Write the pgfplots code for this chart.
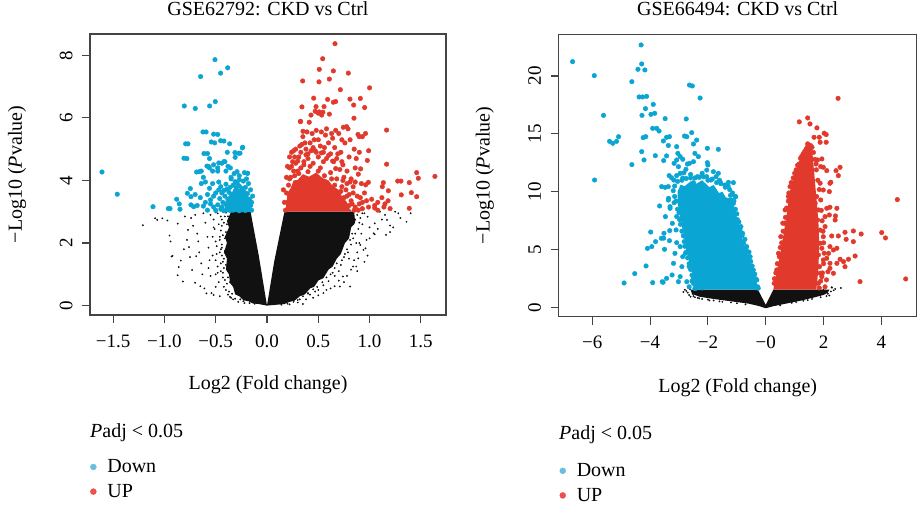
\documentclass[border=0pt]{standalone}
\usepackage{pgfplots}
\pgfplotsset{compat=1.18}
\usepackage{fontspec}
\setmainfont{Liberation Serif}

\definecolor{cblue}{HTML}{0AA5D3}
\definecolor{cred}{HTML}{E13A2D}
\definecolor{cblack}{HTML}{111111}
\definecolor{lblue}{HTML}{6CBCE4}
\definecolor{lred}{HTML}{EE5050}
\definecolor{frame}{HTML}{444444}

\newcommand\ticksize{\fontsize{19}{22}\selectfont}
\newcommand\labsize{\fontsize{20}{24}\selectfont}

\pgfplotsset{
  volc/.style={
    scale only axis,
    axis line style={frame, line width=1.1pt},
    every tick/.style={frame, line width=1.1pt},
    tick align=outside, major tick length=8pt,
    xtick pos=bottom, ytick pos=left,
    tick label style={font=\ticksize},
    xticklabel style={yshift=-8pt},
    yticklabel style={xshift=-6pt, rotate=90, anchor=south},
    label style={font=\labsize},
    title style={font=\labsize, anchor=center},
    legend cell align=left,
    legend style={draw=none, fill=none, font=\labsize, row sep=6pt,
      /tikz/every odd column/.append style={column sep=9pt}},
  },
  blk/.style={only marks, mark=*, mark size=0.7pt, color=cblack, forget plot},
  blu/.style={only marks, mark=*, mark size=2.3pt, color=cblue, forget plot},
  rd/.style={only marks, mark=*, mark size=2.3pt, color=cred, forget plot},
}

\begin{document}
\begin{tikzpicture}
\useasboundingbox (0pt,0pt) rectangle (920pt,509pt);

% ---------------- GSE62792 ----------------
\begin{axis}[volc,
  at={(90pt,194pt)}, anchor=south west,
  width=356pt, height=281pt,
  xmin=-1.725, xmax=1.745, ymin=-0.30, ymax=8.68,
  xtick={-1.5,-1,-0.5,0,0.5,1,1.5},
  xticklabels={−1.5,−1.0,−0.5,0.0,0.5,1.0,1.5},
  ytick={0,2,4,6,8}, yticklabels={0,2,4,6,8},
  title={GSE62792: CKD vs Ctrl},
  title style={at={(axis description cs:0.5,1.069)}},
  xlabel={Log2 (Fold change)},
  xlabel style={at={(axis description cs:0.5,-0.249)}, anchor=center},
  ylabel={−Log10 (\textit{P}value)},
  ylabel style={at={(axis description cs:-0.205,0.5)}, anchor=center},
  legend style={at={(axis description cs:-0.008,-0.50)}, anchor=north west},
]
% dense non-significant genes
\addplot[fill=cblack, draw=none, forget plot] coordinates {
(0,0) (-0.08,0.05) (-0.14,0.07) (-0.18,0.14) (-0.23,0.17) (-0.27,0.3)
(-0.31,0.36) (-0.33,0.6) (-0.36,0.72) (-0.37,1.0) (-0.4,1.15) (-0.39,1.5)
(-0.42,1.7) (-0.39,2.0) (-0.41,2.2) (-0.37,2.5) (-0.39,2.7) (-0.35,3.0)
(-0.16,3.0) (-0.12,2.3) (-0.08,1.6) (-0.05,1.0) (-0.02,0.4) (0,0)};
\addplot[fill=cblack, draw=none, forget plot] coordinates {
(0,0) (0.1,0.03) (0.17,0.05) (0.22,0.12) (0.27,0.16) (0.32,0.3) (0.37,0.36)
(0.42,0.55) (0.46,0.6) (0.5,0.8) (0.55,0.88) (0.6,1.15) (0.64,1.25)
(0.68,1.5) (0.72,1.65) (0.76,2.0) (0.8,2.15) (0.82,2.5) (0.86,2.65)
(0.85,3.0) (0.17,3.0) (0.12,2.2) (0.07,1.4) (0.03,0.6) (0.01,0.2) (0,0)};
\addplot[blk] coordinates {
(-1.21,2.57) (-1.07,2.74) (-1.02,2.79) (-0.97,2.72) (-0.95,2.24) (-0.94,2.05)
(-0.92,1.59) (-0.87,0.97) (-0.86,1.23) (-0.84,1.44) (-0.87,2.62) (-0.82,0.77)
(-0.77,2.42) (-0.76,1.87) (-0.75,1.55) (-0.73,1.14) (-0.70,0.73) (-0.80,2.85)
(-0.74,2.80) (-0.70,2.90) (-0.68,2.30) (-0.67,2.05) (-0.66,1.70) (-0.64,1.35)
(-0.63,1.00) (-0.61,0.55) (-0.60,2.65) (-0.58,2.20) (-0.57,1.85) (-0.56,1.45)
(-0.55,0.95) (-0.54,0.40) (-0.52,2.75) (-0.51,2.45) (-0.50,2.05) (-0.49,1.65)
(-0.48,1.25) (-0.47,0.75) (-0.46,0.30) (-0.45,2.85) (-0.44,2.55) (-0.44,1.95)
(-0.43,1.40) (-0.43,0.90) (-0.59,0.39) (-0.52,0.34) (-0.93,1.57) (-1.09,2.79)
(-0.62,2.95) (-0.55,2.90) (-0.48,2.95) (-0.47,2.60) (-0.46,2.20) (-0.45,1.80)
(-0.45,1.10) (-0.40,0.50) (-0.38,0.35) (-0.35,0.25) (-0.33,0.20) (-0.28,0.12)
(-0.65,0.62) (-0.69,1.58) (-0.72,2.55) (-0.78,2.10) (-0.81,1.80) (-0.57,1.20)
(-0.53,1.60) (-0.50,1.00) (-0.50,0.60)
(-0.12,0.06) (-0.17,0.08) (-0.23,0.14) (-0.26,0.20) (-0.31,0.22) (-0.34,0.38)
(-0.37,0.45) (-0.39,0.70) (-0.41,0.82) (-0.43,1.05) (-0.42,1.20) (-0.45,1.35)
(-0.44,1.60) (-0.46,1.70) (-0.44,1.85) (-0.46,2.10) (-0.43,2.25) (-0.45,2.40)
(-0.42,2.65) (-0.44,2.75) (-0.41,2.85) (-0.40,2.97) (-0.50,2.98) (-0.52,2.50)
(-0.53,2.20) (-0.49,1.90) (-0.50,1.45) (-0.48,1.05) (-0.42,0.60) (-0.36,0.28)
(-0.22,0.08) (-0.38,0.90) (-0.40,1.30) (-0.41,1.75) (-0.41,2.15) (-0.39,2.60)
(-0.38,2.85) (-0.36,0.75) (-0.30,0.40) (-0.40,2.35) (-0.42,1.50) (-0.38,1.10)
(1.36,2.68) (1.20,2.56) (1.17,2.74) (1.25,3.00) (1.28,2.95) (1.10,3.00)
(1.05,2.63) (1.04,2.31) (0.97,2.10) (0.94,1.78) (0.91,1.94) (0.89,1.51)
(0.87,1.25) (0.81,0.61) (0.71,0.61) (0.58,0.50) (0.40,0.40) (0.74,0.93)
(0.98,2.84) (1.23,2.50) (1.05,2.28) (0.96,1.83) (0.84,1.25) (1.00,2.50)
(1.12,2.75) (0.93,2.60) (0.92,2.30) (0.90,2.00) (0.88,1.70) (0.85,1.45)
(0.82,1.15) (0.78,0.95) (0.75,0.75) (0.70,0.80) (0.66,0.62) (0.62,0.55)
(0.55,0.40) (0.50,0.33) (0.45,0.25) (0.38,0.20) (0.30,0.10) (1.15,2.90)
(1.30,2.80) (1.40,2.95) (1.08,2.45) (0.95,2.95) (1.00,2.15) (0.98,1.60)
(0.95,1.40) (0.88,1.10) (0.35,0.05) (0.22,0.04) (1.16,2.26) (1.20,2.35)
(0.14,0.03) (0.20,0.06) (0.26,0.12) (0.30,0.18) (0.35,0.30) (0.40,0.38)
(0.45,0.52) (0.49,0.60) (0.54,0.75) (0.58,0.90) (0.62,1.00) (0.66,1.20)
(0.68,1.35) (0.73,1.45) (0.76,1.65) (0.78,1.80) (0.82,1.95) (0.84,2.15)
(0.86,2.30) (0.89,2.45) (0.90,2.65) (0.91,2.80) (0.93,2.95) (0.60,0.78)
(0.70,1.10) (0.80,1.50) (0.87,2.00) (0.50,0.50) (0.42,0.35) (0.32,0.20)
(0.64,1.05) (0.72,1.30) (0.79,1.70) (0.83,2.30) (0.86,2.75) (0.88,2.90)
(0.55,0.65) (0.47,0.45) (0.75,1.55) (0.81,2.10) (0.66,0.95) (0.84,2.60)};
% down-regulated
\addplot[fill=cblue, draw=none, forget plot] coordinates {
(-0.16,3.0) (-0.18,3.5) (-0.24,3.75) (-0.32,3.7) (-0.4,3.4) (-0.42,3.0)
(-0.16,3.0)};
\addplot[blu] coordinates {
(-1.608,4.27) (-1.459,3.56) (-1.111,3.16) (-0.962,3.10) (-0.945,3.10)
(-0.880,3.40) (-0.855,3.25) (-0.848,3.08) (-0.806,6.38) (-0.793,5.17)
(-0.809,4.71) (-0.776,3.59) (-0.747,3.74) (-0.741,3.48) (-0.741,3.22)
(-0.715,3.16) (-0.699,6.30) (-0.686,4.27) (-0.647,7.32) (-0.624,5.55)
(-0.614,4.86) (-0.585,4.46) (-0.559,6.38) (-0.543,5.23) (-0.520,5.48)
(-0.507,7.86) (-0.504,6.52) (-0.452,7.43) (-0.383,7.60) (-0.452,5.27)
(-0.364,5.17) (-0.312,4.89) (-0.276,4.87) (-0.237,5.06) (-0.192,4.23)
(-0.387,4.90) (-0.263,4.87) (-0.310,4.74) (-0.240,5.04) (-0.357,4.40)
(-0.292,4.28) (-0.188,4.23) (-0.420,5.26) (-0.510,5.20) (-0.580,4.86)
(-0.594,5.55) (-0.480,5.47) (-0.770,5.17) (-0.780,4.70) (-0.660,4.28)
(-0.560,4.40) (-0.470,4.56) (-0.420,4.60) (-0.530,4.30) (-0.480,4.30)
(-0.15,3.05) (-0.18,3.08) (-0.21,3.04) (-0.24,3.06) (-0.27,3.03) (-0.30,3.07)
(-0.33,3.05) (-0.36,3.04) (-0.39,3.06) (-0.42,3.03) (-0.45,3.08)
(-0.16,3.20) (-0.19,3.25) (-0.22,3.18) (-0.25,3.22) (-0.28,3.28) (-0.31,3.20)
(-0.34,3.26) (-0.37,3.18) (-0.40,3.24) (-0.43,3.30) (-0.48,3.22) (-0.52,3.15)
(-0.17,3.40) (-0.20,3.36) (-0.23,3.45) (-0.26,3.38) (-0.29,3.42) (-0.32,3.36)
(-0.35,3.44) (-0.38,3.40) (-0.41,3.50) (-0.46,3.42) (-0.55,3.38)
(-0.19,3.58) (-0.22,3.62) (-0.25,3.55) (-0.28,3.60) (-0.31,3.66) (-0.34,3.56)
(-0.37,3.62) (-0.42,3.68) (-0.50,3.60) (-0.58,3.55)
(-0.21,3.78) (-0.24,3.74) (-0.27,3.82) (-0.30,3.76) (-0.33,3.85) (-0.36,3.78)
(-0.40,3.88) (-0.45,3.80) (-0.53,3.90) (-0.60,3.95)
(-0.23,3.98) (-0.27,4.02) (-0.31,3.96) (-0.35,4.05) (-0.27,4.15) (-0.32,4.22)
(-0.22,4.25) (-0.40,4.30) (-0.48,4.40) (-0.44,4.55) (-0.41,4.60) (-0.38,4.45)
(-0.52,4.50) (-0.56,4.70) (-0.57,4.45) (-0.62,4.10) (-0.64,4.30) (-0.35,4.10)
(-0.18,3.90) (-0.16,3.70) (-0.14,3.50) (-0.20,4.05)
(-0.62,3.18) (-0.60,3.30) (-0.65,3.45) (-0.55,3.25) (-0.58,3.05) (-0.68,3.20)
(-0.50,3.05) (-0.52,3.50) (-0.56,3.75) (-0.47,3.95) (-0.64,3.90) (-0.70,3.55)
(-0.44,3.15) (-0.44,3.60) (-0.39,3.72) (-0.29,3.90) (-0.15,3.30) (-0.47,3.70)};
% up-regulated
\addplot[fill=cred, draw=none, forget plot] coordinates {
(0.18,3.0) (0.2,3.6) (0.23,3.75) (0.26,4.0) (0.3,4.02) (0.35,4.2) (0.41,4.12)
(0.48,4.25) (0.54,4.08) (0.6,4.0) (0.64,3.82) (0.7,3.7) (0.73,3.5)
(0.78,3.3) (0.8,3.12) (0.83,3.0) (0.18,3.0)};
\addplot[rd] coordinates {
(0.663,8.37) (0.543,7.89) (0.510,7.55) (0.647,7.50) (0.793,7.43) (0.348,7.18)
(0.507,7.15) (0.608,7.24) (1.000,6.96) (0.715,6.90) (0.455,6.63) (0.591,6.59)
(0.647,6.50) (0.669,6.52) (0.809,6.60) (0.910,6.62) (0.845,6.41) (0.952,6.33)
(0.341,6.35) (0.478,6.36) (0.556,6.36) (0.510,6.19) (0.533,6.09) (0.608,6.12)
(0.848,5.99) (0.325,5.88) (0.429,6.09) (1.166,5.61) (0.776,5.72) (0.744,5.70)
(0.887,5.47) (0.900,5.40) (0.991,4.95) (1.166,4.52) (0.978,4.64) (0.913,4.37)
(1.637,4.13) (1.459,4.25) (1.475,4.07) (1.274,3.98) (1.306,3.98) (1.387,3.93)
(0.988,3.94) (0.962,3.86) (1.134,3.93) (1.124,3.80) (1.183,3.67) (1.309,3.54)
(1.407,3.61) (1.459,3.48) (1.387,3.11) (1.05,3.12) (1.08,3.05) (1.14,3.15)
(0.47,6.21) (0.50,6.15) (0.545,6.18) (0.351,5.57) (0.412,5.86) (0.328,5.89)
(0.18,3.05) (0.20,3.30) (0.19,3.60) (0.21,3.85) (0.23,4.10) (0.22,4.40)
(0.25,4.60) (0.27,4.75) (0.30,4.30) (0.33,4.90) (0.36,4.60) (0.38,5.00)
(0.40,4.85) (0.42,5.20) (0.45,5.05) (0.47,4.95) (0.50,5.30) (0.52,5.10)
(0.55,4.90) (0.57,5.45) (0.60,5.20) (0.62,4.85) (0.64,5.35) (0.66,5.05)
(0.68,4.70) (0.70,5.50) (0.72,4.90) (0.74,4.50) (0.76,5.20) (0.78,4.30)
(0.80,4.75) (0.82,4.05) (0.84,3.80) (0.86,4.40) (0.88,3.50) (0.90,3.25)
(0.92,3.90) (0.93,3.10) (0.95,3.60) (0.97,3.35) (0.99,3.15) (1.02,3.40)
(1.05,3.20) (1.08,3.30) (1.12,3.45) (1.15,3.25) (1.18,3.35) (1.20,3.10)
(0.35,5.40) (0.32,5.10) (0.28,5.00) (0.26,4.30) (0.44,5.50) (0.48,5.60)
(0.53,5.55) (0.58,5.65) (0.63,5.50) (0.67,5.60) (0.73,5.30) (0.79,5.65)
(0.81,5.30) (0.85,5.00) (0.87,4.70) (0.89,4.20) (0.90,4.90) (0.93,5.40)
(0.96,5.50) (0.39,5.55) (0.34,5.15) (0.24,4.90) (0.22,4.75) (0.20,4.45)
(0.30,3.90) (0.55,4.60) (0.65,4.60) (0.75,4.10) (0.78,3.90) (0.60,4.80)
(0.50,4.75) (0.40,4.70) (0.28,4.55)
(0.24,4.45) (0.30,4.62) (0.38,4.82) (0.43,4.95) (0.48,4.90) (0.53,4.88)
(0.58,4.70) (0.64,4.62) (0.67,4.38) (0.71,4.35) (0.74,4.00) (0.77,3.70)
(0.80,3.55) (0.83,3.25) (0.86,3.15) (0.89,3.05) (0.91,3.45) (0.93,3.30)
(0.84,3.60) (0.81,3.95) (0.86,3.95) (0.73,4.60) (0.69,4.85) (0.56,5.05)
(0.46,5.30) (0.37,5.20) (0.31,4.75) (0.26,4.95) (0.19,4.10) (0.17,3.30)
(0.16,3.70) (0.33,4.40) (0.42,4.45) (0.52,4.40) (0.62,4.25) (0.68,4.05)
(0.73,3.80) (0.78,3.50) (0.82,3.35) (0.85,3.05) (0.45,4.55) (0.36,4.50)
(0.22,4.05) (0.27,4.15) (0.31,4.22) (0.40,4.28) (0.50,4.30) (0.56,4.15)
(0.63,4.05) (0.66,3.85) (0.72,3.65) (0.75,3.45) (0.80,3.20)};
\addlegendimage{only marks, mark=*, mark size=3pt, color=lblue}
\addlegendentry{Down}
\addlegendimage{only marks, mark=*, mark size=3pt, color=lred}
\addlegendentry{UP}
\end{axis}
\node[anchor=west, font=\labsize, inner sep=0pt] at (90pt,76pt) {\textit{P}adj < 0.05};

% ---------------- GSE66494 ----------------
\begin{axis}[volc,
  at={(558.7pt,192.3pt)}, anchor=south west,
  width=358pt, height=282.4pt,
  xmin=-7.16, xmax=5.22, ymin=-0.78, ymax=23.6,
  xtick={-6,-4,-2,0,2,4},
  xticklabels={−6,−4,−2,−0,2,4},
  ytick={0,5,10,15,20}, yticklabels={0,5,10,15,20},
  title={GSE66494: CKD vs Ctrl},
  title style={at={(axis description cs:0.5,1.068)}},
  xlabel={Log2 (Fold change)},
  xlabel style={at={(axis description cs:0.5,-0.252)}, anchor=center},
  ylabel={−Log10 (\textit{P}value)},
  ylabel style={at={(axis description cs:-0.206,0.5)}, anchor=center},
  legend style={at={(axis description cs:-0.006,-0.505)}, anchor=north west},
]
% non-significant band
\addplot[fill=cblack, draw=none, forget plot] coordinates {
(-2.6,1.55) (-2.55,1.2) (-2.3,0.95) (-1.8,0.75) (-1.2,0.55) (-0.6,0.35)
(-0.25,0.15) (0,-0.05) (0.25,0.12) (0.7,0.35) (1.2,0.6) (1.7,0.9) (2.0,1.1)
(2.15,1.3) (2.2,1.55) (0.26,1.55) (0,0.25) (-0.27,1.55) (-2.6,1.55)};
\addplot[blk] coordinates {
(-2.52,1.18) (-2.40,1.47) (-2.70,1.30) (-2.75,1.45) (-2.65,1.10) (-2.80,1.55)
(-2.50,1.00) (-2.60,0.95) (-2.45,0.90) (-2.35,0.85) (-2.20,0.75) (-2.00,0.70)
(-1.80,0.62) (-1.50,0.50) (-1.20,0.45) (2.29,1.73) (2.05,1.24) (1.88,1.10)
(1.76,1.36) (1.99,1.53) (2.15,1.20) (2.25,1.40) (2.35,1.50) (2.10,1.00)
(1.90,0.90) (1.60,0.75) (1.30,0.60) (0.90,0.42) (2.28,1.76) (2.60,1.70)
(-2.85,1.35) (-2.62,1.60) (-2.30,0.80) (-1.95,0.62) (-1.60,0.55) (-1.00,0.38)
(-0.70,0.28) (2.40,1.62) (2.20,1.05) (1.45,0.65) (1.05,0.48) (0.50,0.20)};
% down-regulated
\addplot[fill=cblue, draw=none, forget plot] coordinates {
(-0.26,1.55) (-0.31,2.1) (-0.43,3.26) (-0.6,4.4) (-0.77,5.56) (-0.89,6.7)
(-1.0,7.8) (-1.1,8.8) (-1.15,9.2) (-1.25,9.5) (-1.35,9.4) (-1.5,10.0)
(-1.62,9.9) (-1.8,10.6) (-1.95,10.4) (-2.2,11.0) (-2.4,10.7) (-2.6,10.9)
(-2.8,10.5) (-2.95,10.6) (-3.05,10.0) (-3.05,9.0) (-2.95,8.0)
(-2.9,7.0) (-2.8,6.0) (-2.75,5.0) (-2.65,4.0) (-2.55,3.0) (-2.45,2.2)
(-2.35,1.55) (-0.26,1.55)};
\addplot[blu] coordinates {
(-6.68,21.24) (-5.93,20.03) (-5.92,11.02) (-5.61,16.60) (-5.40,14.36)
(-5.29,14.19) (-5.16,14.36) (-5.09,14.76) (-4.90,2.13) (-4.63,19.51)
(-4.63,12.35) (-4.53,2.94) (-4.42,20.58) (-4.29,21.04) (-4.18,20.52)
(-4.31,22.68) (-4.38,18.19) (-4.26,18.19) (-4.12,18.24) (-4.28,16.60)
(-4.16,17.18) (-3.89,17.55) (-3.97,16.69) (-3.84,16.78) (-4.29,13.47)
(-4.21,12.75) (-4.15,14.76) (-4.24,14.68) (-4.14,3.60) (-3.98,6.53)
(-4.09,5.12) (-3.94,5.27) (-3.91,2.16) (-3.82,13.12) (-3.91,15.48)
(-3.77,15.48) (-3.69,15.25) (-3.58,2.24) (-3.61,5.99) (-3.52,6.42)
(-3.48,16.32) (-3.54,14.39) (-3.43,14.71) (-3.33,14.76) (-3.60,10.45)
(-3.48,10.39) (-3.37,10.45) (-3.36,9.44) (-3.31,8.72) (-3.47,7.86)
(-3.67,8.78) (-3.53,12.70) (-3.43,13.10) (-3.37,14.00) (-3.08,13.90)
(-2.75,16.29) (-2.64,19.22) (-2.54,19.14) (-2.27,18.10) (-2.81,14.82)
(-2.73,14.76) (-2.56,15.11) (-2.50,14.13) (-2.39,14.47) (-2.02,13.76)
(-1.64,13.67) (-3.55,2.19) (-3.50,5.04) (-3.32,6.65) (-3.81,5.70) (-3.53,6.00)
(-3.34,11.40) (-3.26,11.22) (-3.18,11.02) (-3.08,11.40) (-2.96,11.60)
(-2.87,11.19) (-2.83,11.65) (-3.37,9.29) (-3.31,8.58) (-3.17,9.06)
(-3.08,7.86) (-3.23,7.28) (-3.10,6.71) (-3.33,5.78) (-3.08,5.61) (-2.96,5.27)
(-3.14,4.69) (-2.87,4.40) (-3.19,3.83) (-2.90,3.54) (-3.24,2.82) (-2.96,2.68)
(-2.73,2.24) (-2.50,2.10) (-2.33,2.16) (-3.02,2.24) (-3.43,2.53) (-2.65,3.54)
(-2.78,4.69) (-2.78,6.13) (-2.73,6.99) (-2.90,7.86) (-2.88,9.00) (-2.83,9.87)
(-2.62,10.45) (-2.50,10.79) (-2.36,11.31) (-2.21,11.40) (-2.04,11.31)
(-1.90,11.02) (-1.72,11.31) (-1.58,10.88) (-1.41,10.59) (-1.29,10.82)
(-1.12,10.79) (-1.04,9.58) (-1.18,9.29) (-1.35,9.29) (-1.26,8.58) (-1.12,8.14)
(-0.95,6.99) (-0.80,6.42) (-0.66,5.27) (-0.54,4.40) (-0.43,3.25) (-0.31,2.39)
(-2.50,12.60) (-2.33,13.04) (-2.45,13.32) (-2.64,12.46) (-2.02,12.52)
(-2.00,12.32) (-2.04,11.88) (-1.81,11.74) (-1.64,11.60) (-3.04,13.32)
(-2.96,13.04) (-2.87,12.81) (-2.71,12.40) (-3.08,12.75) (-3.17,12.46)
(-3.02,12.17) (-2.76,11.94) (-1.06,9.60) (-1.12,9.00) (-1.00,8.10)
(-0.89,6.70) (-0.77,5.56) (-0.60,4.40) (-0.26,1.68) (-2.40,1.90) (-2.30,2.20)
(-2.20,1.70) (-2.55,2.30) (-2.45,1.65) (-2.65,1.80) (-2.15,1.95)
(-1.25,10.20) (-1.40,10.40) (-1.55,10.70) (-1.70,10.80) (-1.85,11.10)
(-2.00,11.00) (-2.15,11.30) (-2.30,11.25) (-2.45,11.20) (-2.60,11.20)
(-2.75,11.15) (-2.90,11.00) (-3.05,10.90) (-3.15,10.50) (-3.20,10.10)
(-3.15,9.60) (-3.10,9.20) (-3.05,8.50) (-3.00,8.20) (-2.98,7.60) (-2.95,7.20)
(-2.90,6.60) (-2.85,6.20) (-2.82,5.70) (-2.80,5.30) (-2.75,4.80) (-2.70,4.30)
(-2.65,3.80) (-2.60,3.30) (-2.55,2.80) (-2.50,2.50) (-2.45,2.00) (-2.40,1.70)
(-0.28,1.80) (-0.35,2.50) (-0.38,2.90) (-0.47,3.60) (-0.52,4.00) (-0.58,4.80)
(-0.68,5.00) (-0.72,5.90) (-0.82,6.20) (-0.86,7.00) (-0.93,7.40) (-0.98,7.60)
(-1.05,8.50) (-1.10,9.20) (-1.15,9.90) (-1.22,9.70) (-1.30,10.50)
(-1.60,11.00) (-2.20,11.60) (-2.60,11.50)};
% up-regulated
\addplot[fill=cred, draw=none, forget plot] coordinates {
(0.26,1.55) (0.45,4) (0.6,6.1) (0.75,8.5) (0.85,10.2) (1.0,11.5) (1.15,12.6)
(1.35,13.8) (1.5,14.2) (1.62,13.2) (1.68,11.5) (1.75,9.5) (1.82,7.5)
(1.85,5.5) (1.82,3.3) (1.75,1.55) (0.26,1.55)};
\addplot[rd] coordinates {
(2.50,18.07) (1.16,16.04) (1.45,16.38) (1.53,15.86) (1.77,15.52) (2.02,15.06)
(2.09,14.94) (1.67,14.71) (1.85,14.71) (1.88,14.28) (2.09,14.28) (1.45,14.14)
(1.60,13.85) (1.53,13.62) (1.79,12.75) (1.94,12.84) (1.74,12.41) (1.90,12.18)
(2.11,11.83) (2.43,11.83) (2.57,12.12) (2.51,11.40) (2.25,10.83) (1.99,12.12)
(2.22,10.74) (2.20,10.02) (2.11,8.58) (2.22,8.67) (2.46,8.58) (2.05,7.86)
(2.20,8.00) (2.41,7.92) (2.40,7.57) (2.05,7.00) (2.28,6.19) (2.51,6.19)
(2.74,6.51) (3.03,6.62) (3.30,6.36) (2.78,5.90) (3.03,5.70) (4.01,6.48)
(4.14,6.02) (4.55,9.33) (2.22,5.27) (2.34,4.98) (2.46,5.13) (2.17,4.69)
(2.11,4.27) (2.22,3.83) (2.57,4.18) (2.69,3.97) (2.86,4.18) (3.09,4.46)
(2.74,3.54) (2.46,3.83) (2.22,3.40) (2.34,2.97) (3.26,2.25) (4.84,2.48)
(1.94,2.68) (1.82,2.10) (1.88,2.97) (1.86,3.54) (1.99,4.12) (1.82,4.55)
(1.94,5.13) (1.88,5.56) (1.99,6.13) (1.88,6.70) (1.79,7.57) (1.82,8.44)
(1.71,9.02) (1.76,9.59) (1.99,10.16) (1.88,10.74) (0.84,10.45) (0.78,9.60)
(0.67,8.44) (0.59,7.29) (0.52,6.13) (0.44,4.69) (0.38,3.26) (0.29,2.10)
(1.00,11.60) (1.10,12.30) (1.20,12.90) (1.30,13.30) (1.40,13.70) (1.55,14.00)
(1.65,13.40) (1.70,12.80) (1.75,11.90) (1.80,11.00) (1.85,10.20) (1.90,9.30)
(1.92,8.40) (1.95,7.50) (1.98,6.60) (2.00,5.60) (2.02,4.70) (2.00,3.80)
(1.96,3.00) (1.90,2.30) (1.85,1.70) (2.05,1.80) (2.10,2.40) (2.15,3.10)
(0.30,2.50) (0.35,3.00) (0.40,3.80) (0.47,4.40) (0.50,5.20) (0.55,5.60)
(0.60,6.60) (0.65,7.30) (0.68,7.80) (0.72,8.60) (0.78,9.20) (0.80,9.90)
(0.88,10.80) (0.95,11.20) (1.05,11.90) (1.15,12.40) (1.25,13.10) (1.35,13.50)
(1.45,13.90)};
\addlegendimage{only marks, mark=*, mark size=3pt, color=lblue}
\addlegendentry{Down}
\addlegendimage{only marks, mark=*, mark size=3pt, color=lred}
\addlegendentry{UP}
\end{axis}
\node[anchor=west, font=\labsize, inner sep=0pt] at (559pt,74pt) {\textit{P}adj < 0.05};
\end{tikzpicture}
\end{document}
